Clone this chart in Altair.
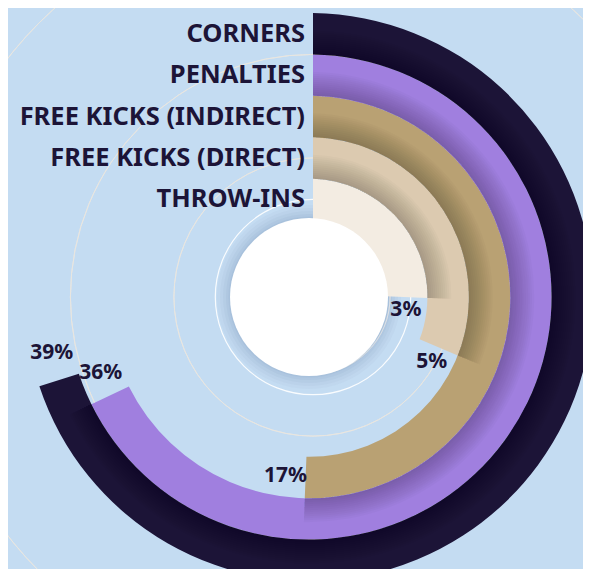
import math
import altair as alt
import pandas as pd

# ---- data (inner ring -> outer ring) ----
categories = ["THROW-INS", "FREE KICKS (DIRECT)", "FREE KICKS (INDIRECT)", "PENALTIES", "CORNERS"]
shares = [3, 5, 17, 36, 39]
pct_labels = ["3%", "5%", "17%", "36%", "39%"]
colors = ["#f3ece2", "#dccab0", "#b9a173", "#a07fdf", "#1c1437"]
grid_levels = [0.5, 1.5, 2.5, 3.5, 4.5, 5.5]

df = pd.DataFrame({
    "category": categories,
    "share": shares,
    "label": pct_labels,
    "ring": list(range(len(categories))),
    "prev_share": [0] + shares[:-1],
})

# ---- style / geometry ----
W, H = 575, 561
CX, CY = 301, 289          # centre of the rings inside the view
R_IN, R_OUT = 77, 284
N = len(categories)
BAND = (R_OUT - R_IN) / N
BG = "#c4dcf2"
INK = "#1c1437"
FONT = "Noto Sans"
TAU = 2 * math.pi

theta_scale = alt.Scale(type="pow", exponent=0.392, domain=[0, 39],
                        range=[0, 252.5 * math.pi / 180])
radius_scale = alt.Scale(type="linear", domain=[0, N], range=[R_IN, R_OUT], zero=False)
color_scale = alt.Scale(domain=categories, range=colors)

base = alt.Chart(df).transform_calculate(
    start="0",
    ring_out="datum.ring + 1",
    ring_mid="datum.ring + 0.5",
)

layers = []

# grid circles
grid_df = pd.DataFrame({"g": grid_levels})
layers.append(
    alt.Chart(grid_df).mark_arc(x=CX + 4, y=CY, fillOpacity=0, stroke="#e8e6e0",
                                strokeWidth=1, strokeOpacity=0.95).encode(
        theta=alt.value(0), theta2=alt.value(TAU),
        radius=alt.Radius("g:Q", scale=radius_scale),
    ).transform_filter("datum.g > 1")
)
layers.append(
    alt.Chart(grid_df).mark_arc(x=CX + 4, y=CY, fillOpacity=0, stroke="#ffffff",
                                strokeWidth=1.2, strokeOpacity=0.9).encode(
        theta=alt.value(0), theta2=alt.value(TAU),
        radius=alt.Radius("g:Q", scale=radius_scale),
    ).transform_filter("datum.g < 1")
)

# soft shadow around the white disk
one = pd.DataFrame({"k": [0]})
for r_sh, op in [(92, 0.05), (89, 0.06), (86, 0.07), (83, 0.08), (80.5, 0.10)]:
    layers.append(
        alt.Chart(one).mark_arc(x=CX, y=CY, fill="#6f8fb0", opacity=op).encode(
            theta=alt.value(0), theta2=alt.value(TAU),
            radius=alt.value(r_sh), radius2=alt.value(78),
        )
    )

# rings
for i, cat in enumerate(categories):
    ri = R_IN + BAND * i
    ro = R_IN + BAND * (i + 1)
    pad = 8 / math.hypot(ri, ro)
    layers.append(
        base.transform_filter(alt.datum.category == cat).mark_arc(
            x=CX, y=CY, padAngle=pad).encode(
            theta=alt.Theta("start:Q", scale=theta_scale, stack=None),
            theta2="share:Q",
            radius=alt.Radius("ring:Q", scale=radius_scale),
            radius2="ring_out:Q",
            color=alt.Color("category:N", scale=color_scale, legend=None),
        )
    )
    # soft shadow cast by the inner ring onto this ring
    if i > 0:
        for w in range(2, 25, 2):
            frac = w / BAND
            ro_s = ri + w
            pad_s = 8 / math.hypot(ri, ro_s)
            layers.append(
                base.transform_filter(alt.datum.category == cat)
                .transform_calculate(ring_sh=f"datum.ring + {frac:.4f}")
                .mark_arc(x=CX, y=CY, padAngle=pad_s, fill="#000000", opacity=0.02)
                .encode(
                    theta=alt.Theta("start:Q", scale=theta_scale, stack=None),
                    theta2="prev_share:Q",
                    radius=alt.Radius("ring:Q", scale=radius_scale),
                    radius2="ring_sh:Q",
                )
            )

# white disk
layers.append(
    alt.Chart(one).mark_arc(x=CX, y=CY, fill="#ffffff").encode(
        theta=alt.value(0), theta2=alt.value(TAU), radius=alt.value(79),
    )
)

# category labels
layers.append(
    base.mark_text(x=CX, y=CY, align="right", baseline="middle", dx=-4,
                   font=FONT, fontWeight="bold", fontSize=25.5, color=INK).encode(
        theta=alt.Theta("start:Q", scale=theta_scale, stack=None),
        radius=alt.Radius("ring_mid:Q", scale=radius_scale),
        text="category:N",
    )
)

# percentage labels
layers.append(
    base.mark_text(x=CX, y=CY, align="center", baseline="middle", thetaOffset=0.09,
                   font=FONT, fontWeight="bold", fontSize=21, color=INK).encode(
        theta=alt.Theta("share:Q", scale=theta_scale, stack=None),
        radius=alt.Radius("ring_mid:Q", scale=radius_scale),
        text="label:N",
    )
)

chart = alt.layer(*layers).properties(
    width=W, height=H, background=BG, padding=0,
    autosize=alt.AutoSizeParams(type="none"),
).configure_view(stroke="transparent")

chart.save("out.html", embed_options={"renderer": "svg", "actions": False})
